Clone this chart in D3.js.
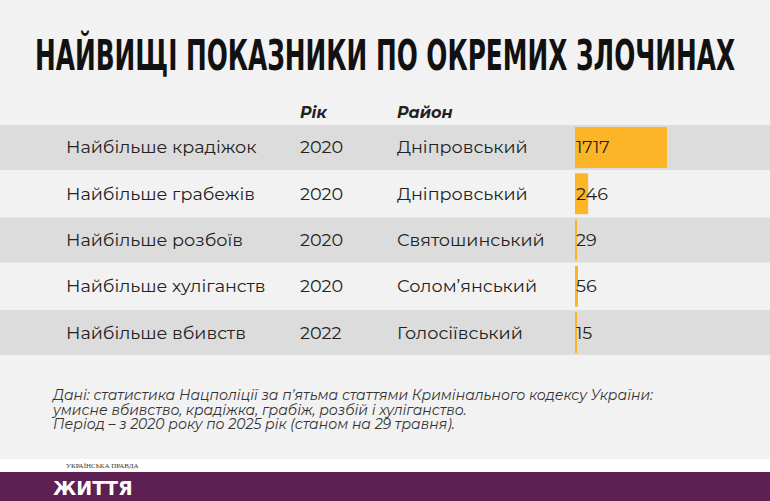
<!DOCTYPE html><html><head><meta charset="utf-8"><script src="https://cdn.jsdelivr.net/npm/d3@7"></script>
<style>body{margin:0;background:#f2f2f2}svg{display:block}</style></head><body><svg width="770" height="501"></svg>
<script>
const categories=["Найбільше крадіжок","Найбільше грабежів","Найбільше розбоїв","Найбільше хуліганств","Найбільше вбивств"];
const years=["2020","2020","2020","2020","2022"];
const districts=["Дніпровський","Дніпровський","Святошинський","Солом’янський","Голосіївський"];
const values=[1717,246,29,56,15];
const svg=d3.select("svg");
const F="Montserrat, 'Noto Sans', sans-serif";
svg.append("rect").attr("width",770).attr("height",501).attr("fill","#f2f2f2");
svg.append("text").attr("x",385).attr("y",70).attr("text-anchor","middle").attr("font-family","'DejaVu Sans Condensed','DejaVu Sans'").attr("font-weight","bold").attr("font-size",43).attr("fill","#111")
 .attr("textLength",700).attr("lengthAdjust","spacingAndGlyphs").text("НАЙВИЩІ ПОКАЗНИКИ ПО ОКРЕМИХ ЗЛОЧИНАХ");
const y=d3.scaleBand().domain(d3.range(categories.length)).range([125,355]).paddingInner(0.03);
const x=d3.scaleLinear().domain([0,1717]).range([0,92]);
svg.append("text").attr("x",300).attr("y",118).attr("font-family",F).attr("font-style","italic").attr("font-weight","bold").attr("font-size",16).attr("fill","#222").text("Рік");
svg.append("text").attr("x",397).attr("y",118).attr("font-family",F).attr("font-style","italic").attr("font-weight","bold").attr("font-size",16).attr("fill","#222").text("Район");
const g=svg.selectAll("g.r").data(values).join("g");
g.append("rect").attr("x",0).attr("width",770).attr("y",(d,i)=>y(i)).attr("height",y.bandwidth()).attr("fill",(d,i)=>i%2?"#f2f2f2":"#dcdcdc");
g.append("rect").attr("x",575).attr("y",(d,i)=>y(i)+2).attr("height",y.bandwidth()-4).attr("width",d=>Math.max(2,x(d))).attr("fill","#fbb527");
const t=(xx,arr)=>g.append("text").attr("x",xx).attr("y",(d,i)=>y(i)+y.bandwidth()/2+6).attr("font-family",F).attr("font-size",17.6).attr("fill","#222").text((d,i)=>arr[i]);
t(66,categories);t(300,years);t(397,districts);t(576,values);
svg.append("text").attr("font-family",F).attr("font-style","italic").attr("font-size",14).attr("fill","#333").selectAll("tspan")
 .data(["Дані: статистика Нацполіції за п’ятьма статтями Кримінального кодексу України:","умисне вбивство, крадіжка, грабіж, розбій і хуліганство.","Період – з 2020 року по 2025 рік (станом на 29 травня)."])
 .join("tspan").attr("x",53).attr("y",(d,i)=>400+i*14.5).text(d=>d);
svg.append("rect").attr("y",459).attr("width",770).attr("height",13).attr("fill","#fff");
svg.append("text").attr("x",66).attr("y",468).attr("font-family","'Liberation Serif'").attr("font-size",7).attr("fill","#333").text("УКРАЇНСЬКА ПРАВДА");
svg.append("rect").attr("y",472).attr("width",770).attr("height",29).attr("fill","#5e1f52");
svg.append("text").attr("x",53).attr("y",495).attr("font-family","'DejaVu Sans'").attr("font-weight","bold").attr("font-size",19).attr("fill","#fff").text("ЖИТТЯ");
</script></body></html>
